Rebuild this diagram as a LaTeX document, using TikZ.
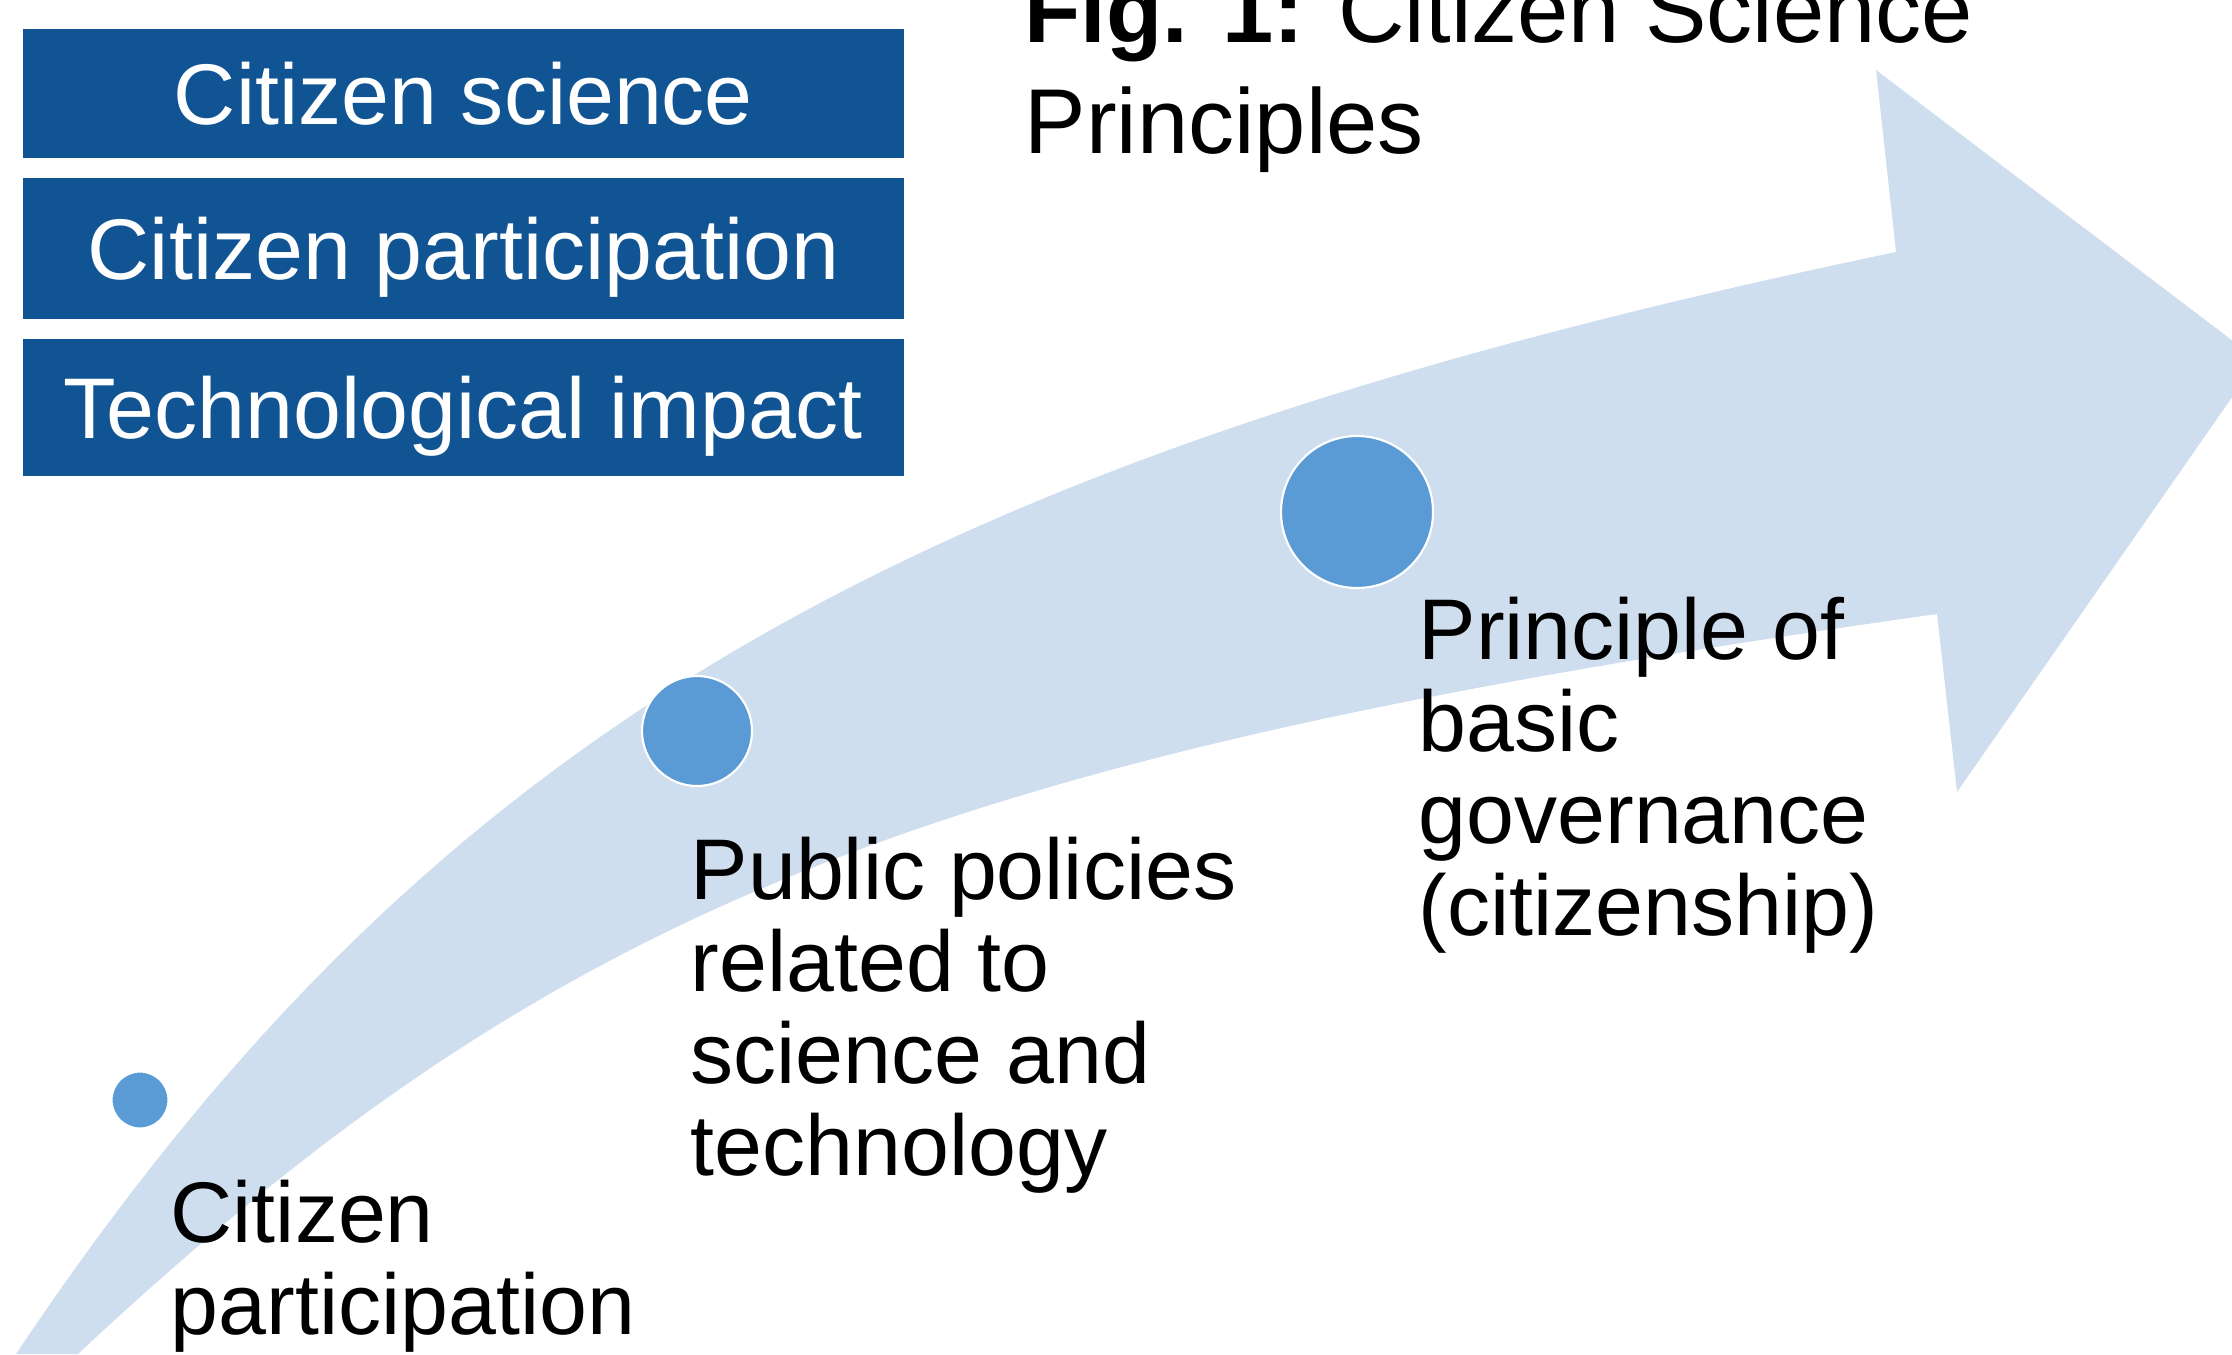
\documentclass[tikz,border=0pt]{standalone}
\usepackage{fontspec}
\setmainfont{Liberation Sans}

\definecolor{bandblue}{RGB}{207,222,238}
\definecolor{boxblue}{RGB}{16,84,148}
\definecolor{dotblue}{RGB}{91,155,213}

\begin{document}
\begin{tikzpicture}[font=\fontsize{24.5}{26.2}\selectfont,
  tag/.style={fill=boxblue, text=white, minimum width=8.81cm, text height=0.8cm, text depth=0.18cm, inner sep=0pt},
  dot/.style={circle, fill=dotblue, draw=white, line width=0.6pt, inner sep=0pt},
  lbl/.style={anchor=north west, align=left, inner sep=0pt}]

\useasboundingbox (0,0) rectangle (22.32,-13.54);
\clip (0,0) rectangle (22.32,-13.54);

% curved arrow in the background
\fill[bandblue] (0.16,-13.54) .. controls (4.30,-7.35) and (9.00,-4.60) .. (18.96,-2.52)
  -- (18.76,-0.70) -- (22.58,-3.60) -- (19.57,-7.92) -- (19.37,-6.14)
  .. controls (9.30,-7.56) and (5.59,-9.04) .. (0.78,-13.54) -- cycle;

% blue tags
\node[tag, minimum height=1.29cm] (cs) at (4.635,-0.935) {Citizen science};
\node[tag, minimum height=1.41cm] (cp) at (4.635,-2.485) {Citizen participation};
\node[tag, minimum height=1.37cm] (ti) at (4.635,-4.075) {Technological impact};

\node[lbl, font=\fontsize{26.2}{31.6}\selectfont] (title) at (10.24,0.25)
{\textbf{Fig. 1:} Citizen Science\\Principles};

% steps along the arrow
\node[dot, minimum size=0.57cm] (d1) at (1.40,-11.00) {};
\node[dot, minimum size=1.10cm] (d2) at (6.97,-7.31) {};
\node[dot, minimum size=1.52cm] (d3) at (13.57,-5.12) {};

\node[lbl] (l1) at (1.70,-11.79) {Citizen\\participation};
\node[lbl] (l2) at (6.90,-8.36) {Public policies\\related to\\science and\\technology};
\node[lbl] (l3) at (14.18,-5.96) {Principle of\\basic\\governance\\(citizenship)};
\end{tikzpicture}
\end{document}
